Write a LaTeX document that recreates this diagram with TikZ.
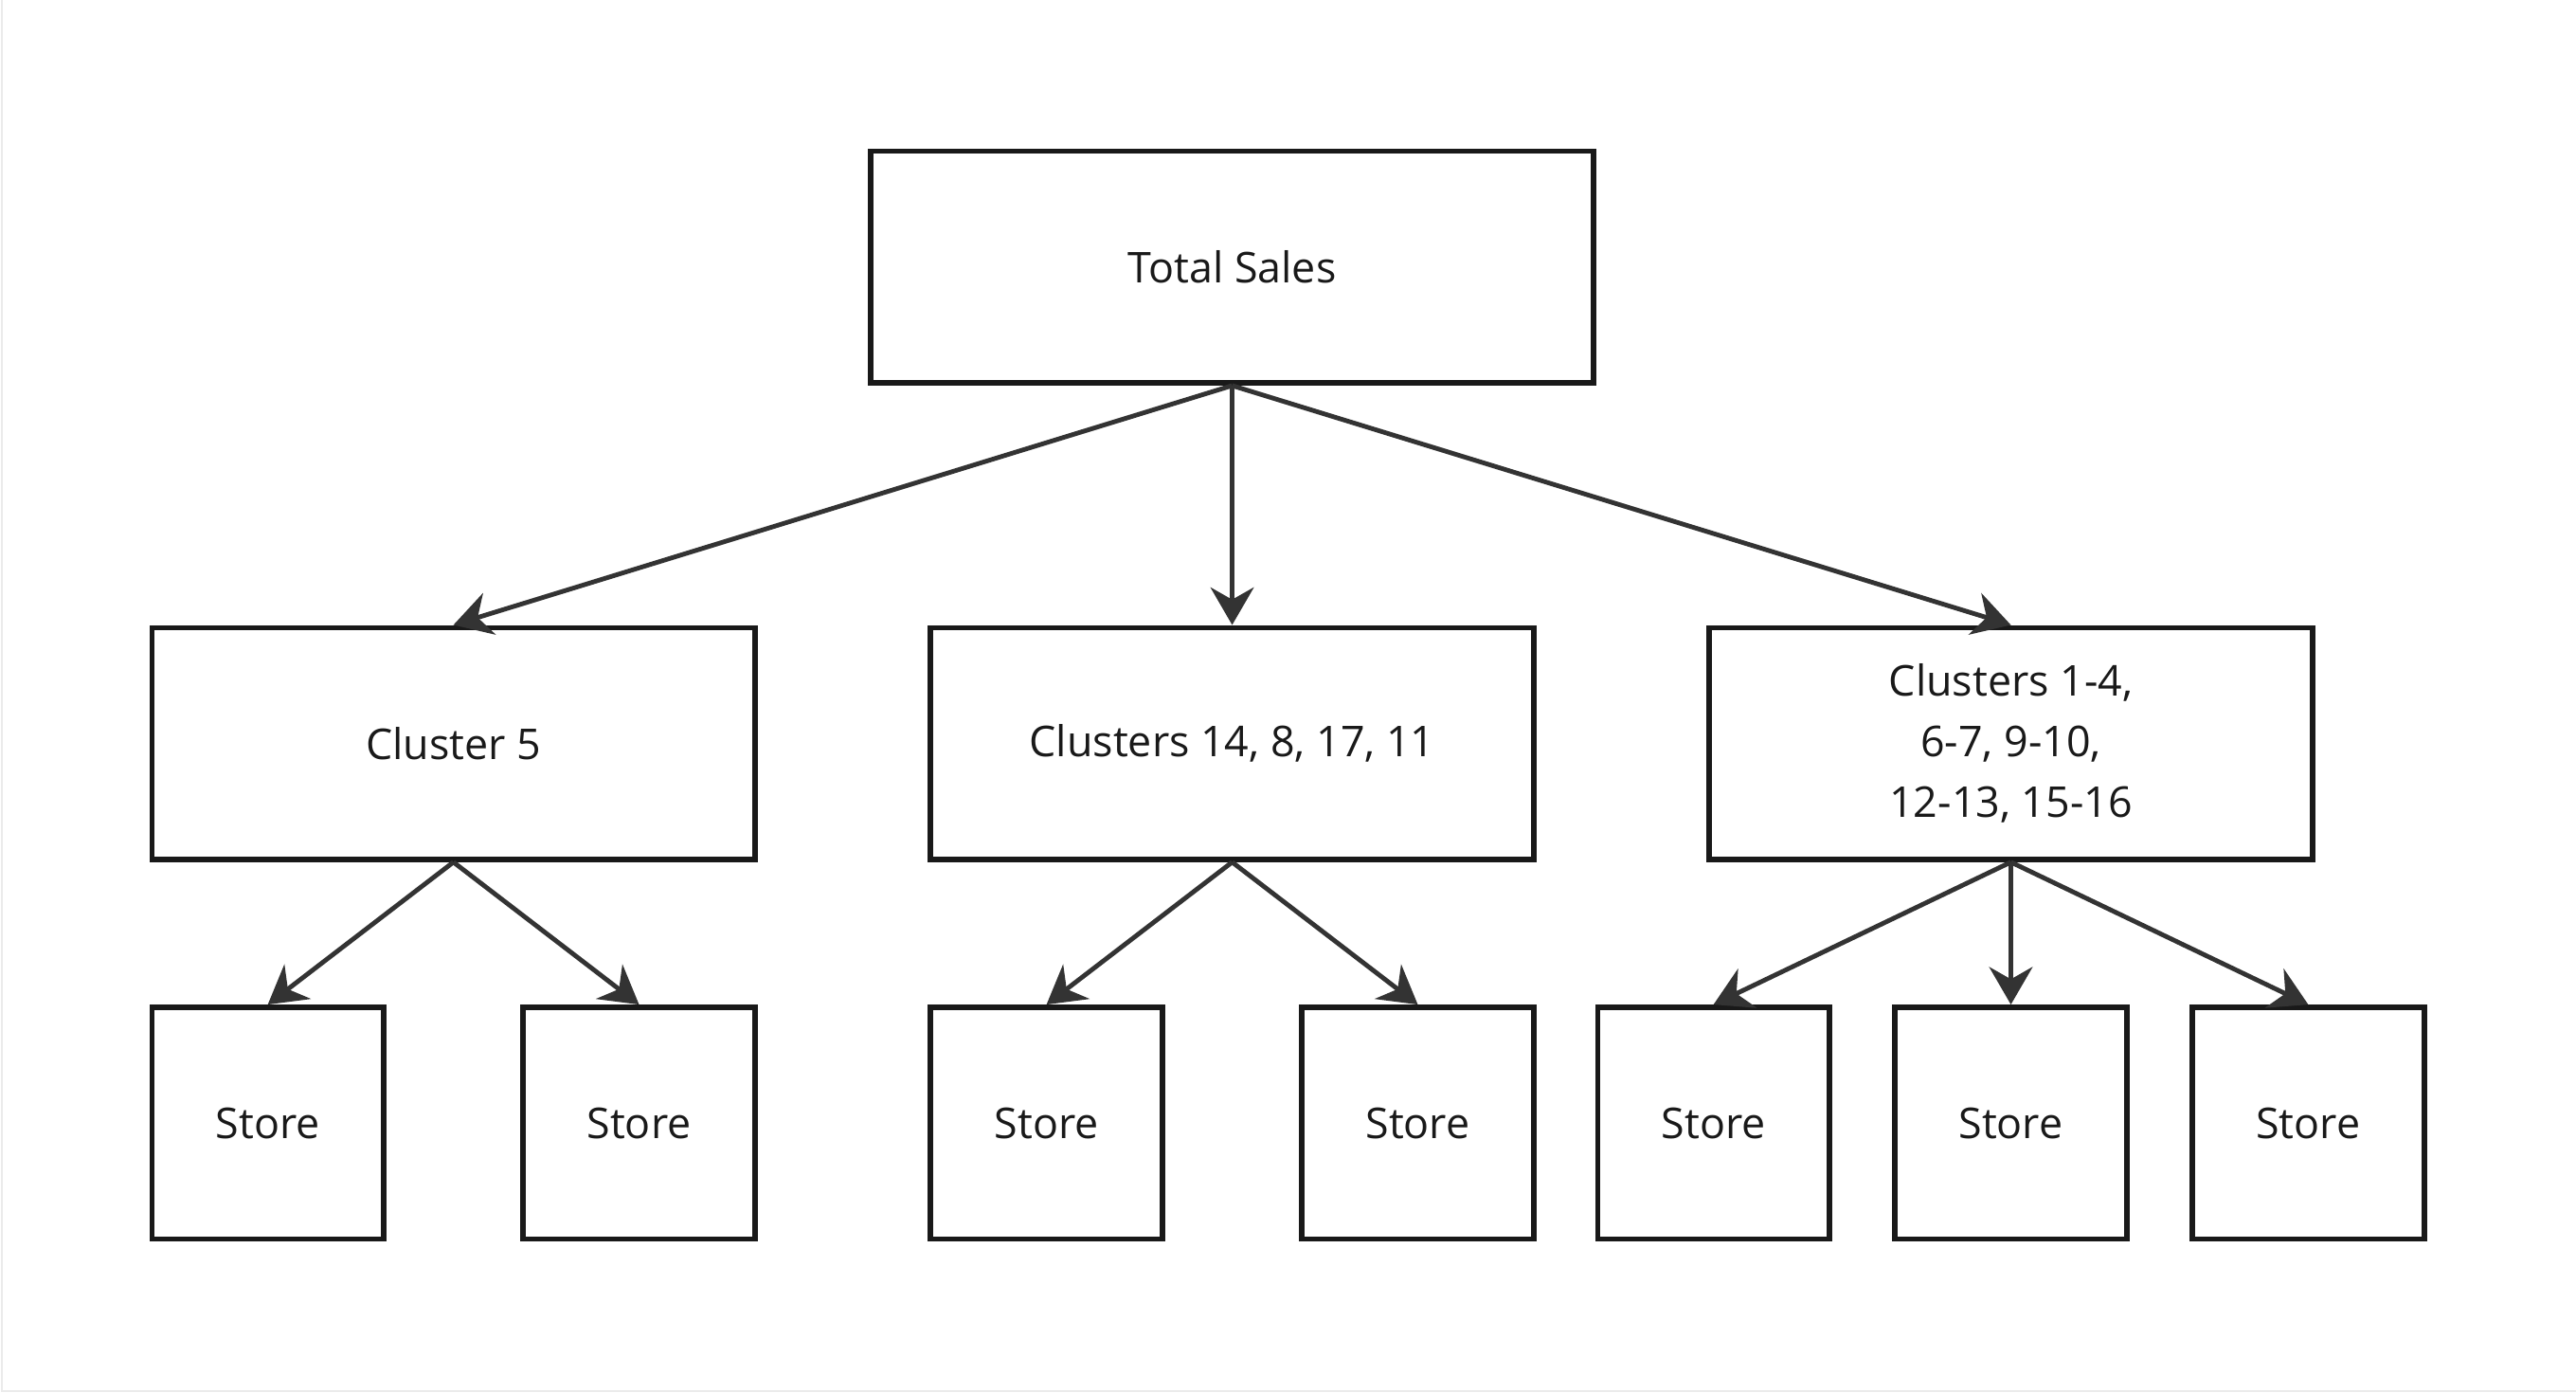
\documentclass[tikz,border=0pt]{standalone}
\usepackage{fontspec}
\setmainfont{Open Sans}
\usetikzlibrary{arrows.meta, positioning}

\begin{document}
\begin{tikzpicture}[
            > = {Stealth[length=6.5pt, width=7.5pt]}, % arrow head style
            node distance = 2.9cm, % distance between rows
            line width = 0.8pt % line style
        ]

        \tikzstyle{every node}=[font=\fontsize{7.35}{10.5}\selectfont, text=black!90]
        \tikzstyle{bigbox}=[
            draw = black!90,
            line width = 0.95pt,
            align = center,
            minimum width = 4.4cm,
            minimum height = 1.41cm
        ]
        \tikzstyle{clusterbox}=[bigbox, minimum width = 3.67cm]
        \tikzstyle{storebox}=[bigbox, minimum width = 1.41cm]
        \tikzstyle{link}=[->, draw = black!80]

        % page frame
        \useasboundingbox (0,0) rectangle (15.68,-8.477);
        \draw[black!8, line width=0.3pt] (0.01,0) -- (0.01,-8.467) -- (15.68,-8.467);

        \node[bigbox] (total) at (7.5,-1.625) {Total Sales};

        \node[clusterbox] (c14) [below of=total] {Clusters 14, 8, 17, 11};
        \node[clusterbox] (c5) [left of=c14, node distance=4.74cm] {Cluster 5};
        \node[clusterbox] (c1) [right of=c14, node distance=4.74cm] {Clusters 1-4,\\6-7, 9-10,\\12-13, 15-16};

        \node[storebox] (s1) [below of=c5, node distance=2.31cm, xshift=-1.13cm] {Store};
        \node[storebox] (s2) [right of=s1, node distance=2.26cm] {Store};
        \node[storebox] (s3) [below of=c14, node distance=2.31cm, xshift=-1.13cm] {Store};
        \node[storebox] (s4) [right of=s3, node distance=2.26cm] {Store};
        \node[storebox] (s6) [below of=c1, node distance=2.31cm] {Store};
        \node[storebox] (s5) [left of=s6, node distance=1.81cm] {Store};
        \node[storebox] (s7) [right of=s6, node distance=1.81cm] {Store};

        \draw[link] (total.south) -- (c5.north);
        \draw[link] (total.south) -- (c14.north);
        \draw[link] (total.south) -- (c1.north);

        \draw[link] (c5.south) -- (s1.north);
        \draw[link] (c5.south) -- (s2.north);
        \draw[link] (c14.south) -- (s3.north);
        \draw[link] (c14.south) -- (s4.north);
        \draw[link] (c1.south) -- (s5.north);
        \draw[link] (c1.south) -- (s6.north);
        \draw[link] (c1.south) -- (s7.north);

  \end{tikzpicture}
\end{document}
